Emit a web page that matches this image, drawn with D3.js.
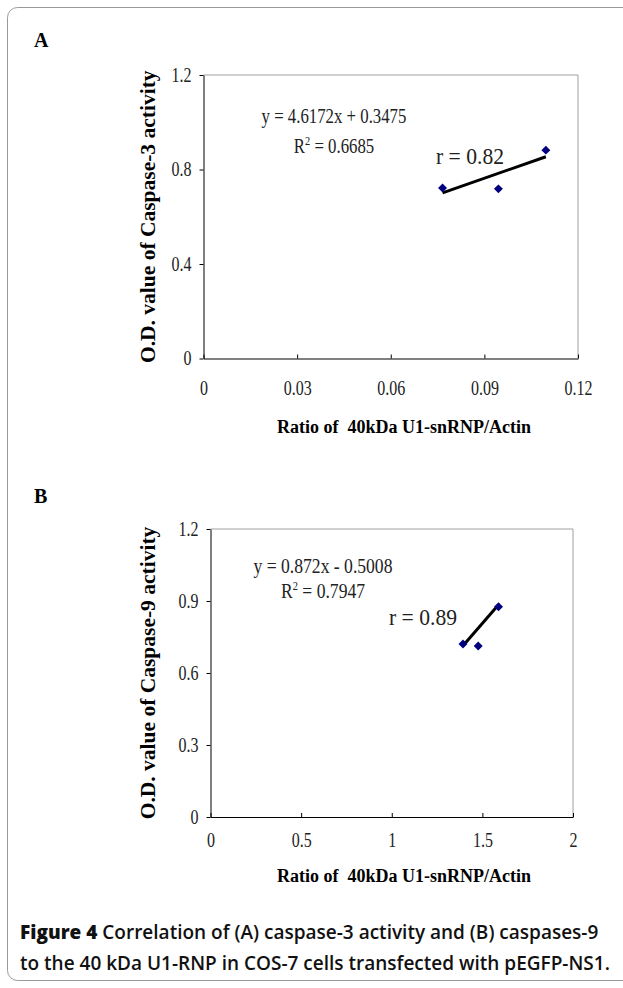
<!DOCTYPE html>
<html>
<head>
<meta charset="utf-8">
<script src="https://cdn.jsdelivr.net/npm/d3@7"></script>
<style>
  body { margin: 0; background: #fff; }
  svg text { font-family: "Liberation Serif", "Times New Roman", serif; }
</style>
</head>
<body>
<div id="chart"></div>
<script>
// Panel A: caspase-3 vs 40 kDa U1-snRNP/Actin
const ratioA = [0.0766, 0.0945, 0.1097];
const caspase3 = [0.722, 0.718, 0.882];
const xTicksA = [0, 0.03, 0.06, 0.09, 0.12];
const yTicksA = [0, 0.4, 0.8, 1.2];
const fitA = [4.6172, 0.3475]; // slope, intercept
const eqA = ["y = 4.6172x + 0.3475", "0.6685", "r = 0.82"];

// Panel B: caspase-9 vs 40 kDa U1-snRNP/Actin
const ratioB = [1.393, 1.477, 1.589];
const caspase9 = [0.721, 0.7125, 0.876];
const xTicksB = [0, 0.5, 1, 1.5, 2];
const yTicksB = [0, 0.3, 0.6, 0.9, 1.2];
const fitB = [0.872, -0.5008];
const eqB = ["y = 0.872x - 0.5008", "0.7947", "r = 0.89"];

const xTitle = "Ratio of  40kDa U1-snRNP/Actin";

const width = 623, height = 988;
const svg = d3.select('#chart').append('svg')
    .attr('width', width)
    .attr('height', height);

// outer frame
svg.append('rect')
    .attr('x', 7.5).attr('y', 7.5)
    .attr('width', 660).attr('height', 973)
    .attr('rx', 10)
    .attr('fill', 'none')
    .attr('stroke', '#9a9a9a');

const SX = 0.8; // narrow serif look

function panel(o) {
    const x = d3.scaleLinear().domain([o.xTicks[0], o.xTicks[o.xTicks.length - 1]]).range([o.left, o.right]);
    const y = d3.scaleLinear().domain([0, 1.2]).range([o.bottom, o.top]);

    svg.append('text')
        .attr('x', 34).attr('y', o.letterY)
        .attr('font-size', 20).attr('font-weight', 'bold')
        .text(o.letter);

    // plot area frame (gray top/right)
    svg.append('path')
        .attr('d', `M${o.left},${o.top}H${o.right}V${o.bottom}`)
        .attr('fill', 'none').attr('stroke', '#a0a0a0');

    const gx = svg.append('g')
        .attr('transform', `translate(0,${o.bottom})`)
        .call(d3.axisBottom(x).tickValues(o.xTicks).tickSize(-4).tickSizeOuter(0)
            .tickPadding(o.xPad).tickFormat(d => String(d)));
    const gy = svg.append('g')
        .attr('transform', `translate(${o.left},0)`)
        .call(d3.axisLeft(y).tickValues(o.yTicks).tickSize(4).tickSizeOuter(0)
            .tickPadding(9).tickFormat(d => String(d)));

    [gx, gy].forEach(g => {
        g.select('.domain').attr('stroke', '#000');
        g.selectAll('.tick line').attr('stroke', '#000');
        g.selectAll('text')
            .attr('font-family', '"Liberation Serif", serif')
            .attr('font-size', 20)
            .attr('fill', '#222');
    });
    gx.selectAll('text').attr('transform', `scale(${SX},1)`);
    gy.selectAll('text').attr('transform', `scale(${SX},1)`).attr('x', -12 / SX);

    // axis titles
    svg.append('text')
        .attr('transform', `translate(${o.yTitleX},${(o.top + o.bottom) / 2}) rotate(-90)`)
        .attr('text-anchor', 'middle')
        .attr('font-size', 21.5).attr('font-weight', 'bold')
        .text(o.yTitle);
    svg.append('text')
        .attr('x', 404).attr('y', o.xTitleY)
        .attr('text-anchor', 'middle')
        .attr('font-size', 18).attr('font-weight', 'bold')
        .attr('xml:space', 'preserve')
        .style('white-space', 'pre')
        .text(xTitle);

    // trendline over the data extent
    const [x0, x1] = d3.extent(o.xs);
    svg.append('line')
        .attr('x1', x(x0)).attr('y1', y(o.fit[0] * x0 + o.fit[1]))
        .attr('x2', x(x1)).attr('y2', y(o.fit[0] * x1 + o.fit[1]))
        .attr('stroke', '#000').attr('stroke-width', 3);

    const pts = o.xs.map((v, i) => [v, o.ys[i]]);
    svg.append('g').selectAll('path')
        .data(pts)
        .join('path')
        .attr('d', d3.symbol(d3.symbolSquare, 40))
        .attr('transform', d => `translate(${x(d[0])},${y(d[1])}) rotate(45)`)
        .attr('fill', '#00007f');

    // equation labels
    const eq = svg.append('g').attr('fill', '#222');
    eq.append('text')
        .attr('transform', `translate(${o.eqX},${o.eqY}) scale(${SX},1)`)
        .attr('text-anchor', 'middle').attr('font-size', o.eqSize)
        .text(o.eq[0]);
    const r2 = eq.append('text')
        .attr('transform', `translate(${o.r2X},${o.r2Y}) scale(${SX},1)`)
        .attr('text-anchor', 'middle').attr('font-size', o.eqSize);
    r2.append('tspan').text('R');
    r2.append('tspan').attr('font-size', 13).attr('dy', -8).text('2');
    r2.append('tspan').attr('dy', 8).text(' = ' + o.eq[1]);
    eq.append('text')
        .attr('transform', `translate(${o.rX},${o.rY}) scale(0.9,1)`)
        .attr('text-anchor', 'middle').attr('font-size', 24)
        .text(o.eq[2]);
}

panel({
    letter: 'A', letterY: 47,
    xs: ratioA, ys: caspase3, xTicks: xTicksA, yTicks: yTicksA, fit: fitA, eq: eqA,
    left: 203.5, right: 578, top: 75, bottom: 358.5, xPad: 22,
    yTitle: 'O.D. value of Caspase-3 activity', yTitleX: 155, xTitleY: 433,
    eqX: 334, eqY: 123, r2X: 334, r2Y: 153, rX: 470, rY: 164, eqSize: 21
});

panel({
    letter: 'B', letterY: 503,
    xs: ratioB, ys: caspase9, xTicks: xTicksB, yTicks: yTicksB, fit: fitB, eq: eqB,
    left: 210.5, right: 573, top: 529, bottom: 817, xPad: 16,
    yTitle: 'O.D. value of Caspase-9 activity', yTitleX: 155, xTitleY: 882,
    eqX: 323, eqY: 573, r2X: 323, r2Y: 598, rX: 423, rY: 625, eqSize: 22
});

// caption
const cap = svg.append('g')
    .attr('font-size', 19).attr('fill', '#111');
const l1 = cap.append('text').attr('x', 20).attr('y', 939).attr('font-weight', 600)
    .style('font-family', '"Open Sans", sans-serif');
l1.append('tspan').attr('font-weight', 800).text('Figure 4 ');
l1.append('tspan').text('Correlation of (A) caspase-3 activity and (B) caspases-9');
cap.append('text').attr('x', 20).attr('y', 970).attr('font-weight', 600)
    .style('font-family', '"Open Sans", sans-serif')
    .text('to the 40 kDa U1-RNP in COS-7 cells transfected with pEGFP-NS1.');
</script>
</body>
</html>
